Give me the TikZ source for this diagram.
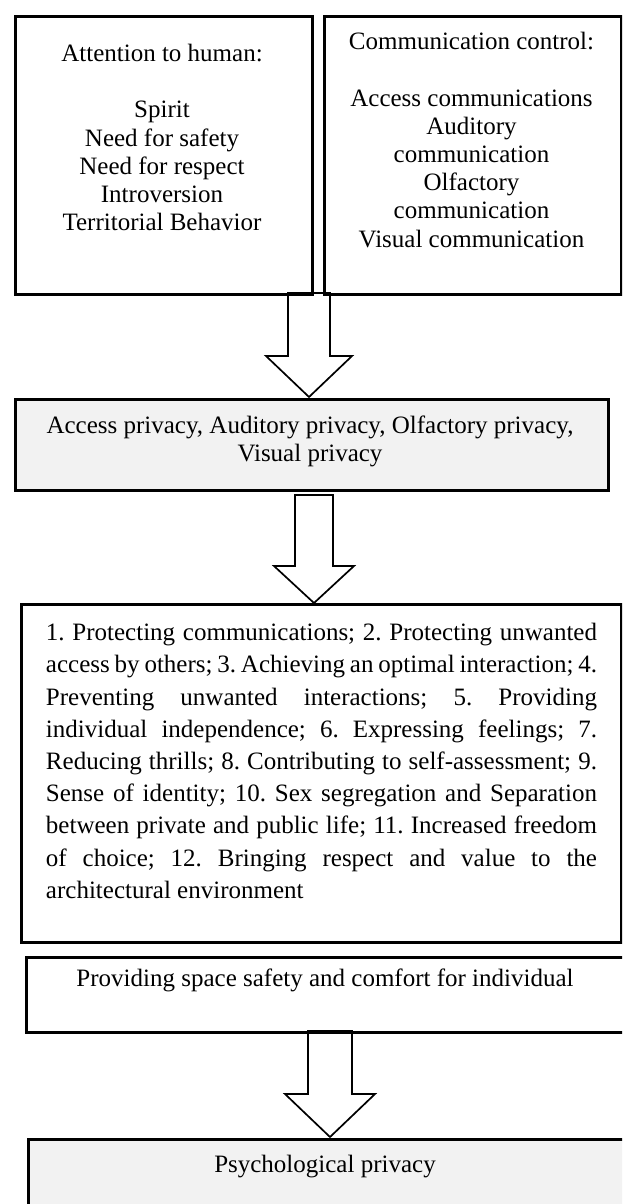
\documentclass[tikz,border=0pt]{standalone}
\usepackage{fontspec}
\setmainfont{Liberation Serif}
\frenchspacing
\definecolor{boxgray}{HTML}{F2F2F2}
\newcommand{\px}[1]{#1*0.5pt}
\tikzset{
  box/.style={draw=black, line width=1.5pt, inner sep=0pt, anchor=north west},
  txt/.style={inner sep=0pt, font=\fontsize{12.5}{14.1}\selectfont, align=center},
  partxt/.style={inner sep=0pt, font=\fontsize{12.5}{16.1}\selectfont, align=left},
  barrow/.style={draw=black, line width=0.85pt, fill=white, line join=miter},
}
% #1 cx, #2 ytop, #3 ytip, #4 shaft half width, #5 head half width, #6 head top
\newcommand{\blockarr}[6]{%
  \draw[barrow] (#1-#4,#2) -- (#1+#4,#2) -- (#1+#4,#6) -- (#1+#5,#6) -- (#1,#3)
    -- (#1-#5,#6) -- (#1-#4,#6) -- cycle;}
\newcommand{\jl}[1]{\makebox[275.5pt][s]{#1}}
\begin{document}
\begin{tikzpicture}[x=0.5pt,y=-0.5pt]
\clip (0,0) rectangle (622,1204);
\fill[white] (0,0) rectangle (622,1204);
% block arrows
\blockarr{309}{293}{397}{21}{43}{356}
\blockarr{314}{495}{603}{19}{40}{566}
\blockarr{330}{1031}{1137}{22}{45}{1094}
% boxes
\node[box, minimum width=\px{297}, minimum height=\px{278}] (A) at (14,15) {};
\node[box, minimum width=\px{297}, minimum height=\px{278}] (B) at (323,15) {};
\node[box, fill=boxgray, minimum width=\px{593}, minimum height=\px{91}] (C) at (14,398) {};
\node[box, minimum width=\px{600}, minimum height=\px{338}] (D) at (20,603) {};
\node[box, minimum width=\px{620}, minimum height=\px{75}] (E) at (25,956) {};
\node[box, fill=boxgray, minimum width=\px{620}, minimum height=\px{120}] (F) at (27,1138) {};
% texts
\node[txt] (tA) at (162,137.5) {Attention to human:\\\mbox{}\\Spirit\\Need for safety\\Need for respect\\Introversion\\Territorial Behavior};
\node[txt] (tB) at (471.5,140) {Communication control:\\\mbox{}\\Access communications\\Auditory\\communication\\Olfactory\\communication\\Visual communication};
\node[txt] (tC) at (310,441) {Access privacy, Auditory privacy, Olfactory privacy,\\Visual privacy};
\node[partxt] (tD) at (321.5,761) {%
\jl{1. Protecting communications; 2. Protecting unwanted}\\
\jl{access by others; 3. Achieving an optimal interaction; 4.}\\
\jl{Preventing unwanted interactions; 5. Providing}\\
\jl{individual independence; 6. Expressing feelings; 7.}\\
\jl{Reducing thrills; 8. Contributing to self-assessment; 9.}\\
\jl{Sense of identity; 10. Sex segregation and Separation}\\
\jl{between private and public life; 11. Increased freedom}\\
\jl{of choice; 12. Bringing respect and value to the}\\
\makebox[275.5pt][l]{architectural environment}};
\node[txt] (tE) at (325,980) {Providing space safety and comfort for individual};
\node[txt] (tF) at (325,1167) {Psychological privacy};
\end{tikzpicture}
\end{document}
